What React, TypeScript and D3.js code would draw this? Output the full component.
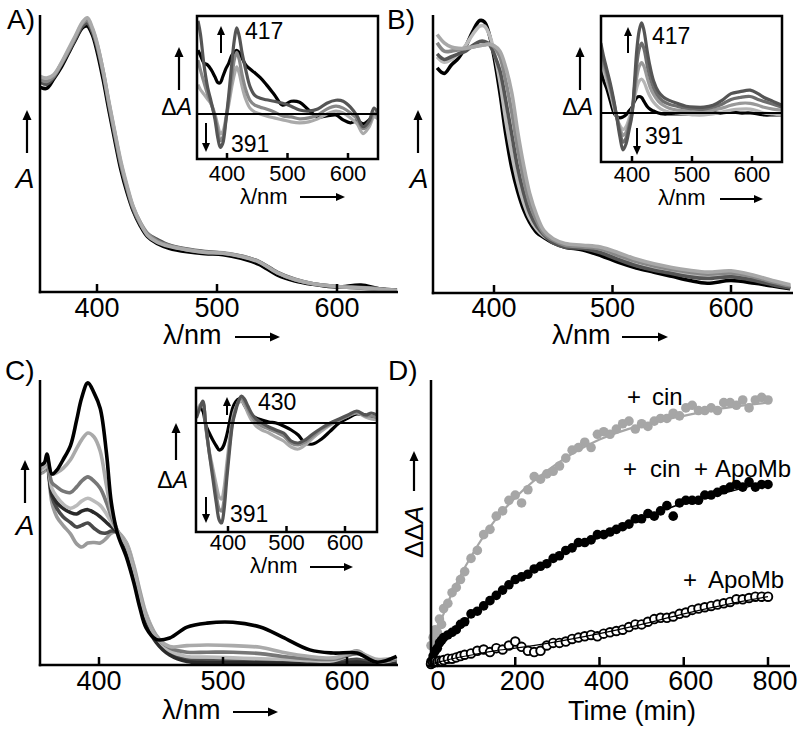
import React from 'react';
import * as d3 from 'd3';

const FONT = '"Liberation Sans", Arial, Helvetica, sans-serif';

// ---------- Data: main absorbance spectra (normalized A) ----------
const WL_MAIN = [352, 358, 364, 370, 376, 382, 388, 392, 396, 400, 405, 410, 415, 420, 425, 430, 436, 442, 450, 460, 475, 490, 505, 520, 535, 550, 565, 580, 600, 620, 635, 650];

const A_BLACK = [0.74, 0.735, 0.77, 0.81, 0.86, 0.91, 0.955, 0.96, 0.93, 0.87, 0.77, 0.655, 0.545, 0.44, 0.36, 0.295, 0.24, 0.2, 0.175, 0.158, 0.145, 0.138, 0.135, 0.122, 0.1, 0.062, 0.04, 0.028, 0.018, 0.025, 0.012, 0.008];
const A_DARK = [0.76, 0.75, 0.775, 0.82, 0.865, 0.915, 0.96, 0.97, 0.94, 0.885, 0.79, 0.672, 0.56, 0.455, 0.372, 0.3, 0.245, 0.21, 0.19, 0.17, 0.155, 0.146, 0.14, 0.13, 0.11, 0.072, 0.046, 0.03, 0.02, 0.014, 0.01, 0.005];
const A_MID = [0.77, 0.76, 0.78, 0.822, 0.87, 0.92, 0.97, 0.98, 0.95, 0.895, 0.8, 0.68, 0.57, 0.462, 0.378, 0.308, 0.252, 0.212, 0.185, 0.168, 0.153, 0.144, 0.142, 0.13, 0.11, 0.07, 0.044, 0.03, 0.02, 0.016, 0.012, 0.006];
const A_LIGHT = [0.78, 0.772, 0.785, 0.825, 0.875, 0.925, 0.975, 0.99, 0.955, 0.9, 0.8, 0.685, 0.575, 0.47, 0.385, 0.31, 0.25, 0.205, 0.18, 0.165, 0.152, 0.143, 0.14, 0.128, 0.108, 0.07, 0.045, 0.03, 0.02, 0.015, 0.01, 0.006];

const B_BLACK = [0.81, 0.79, 0.82, 0.845, 0.885, 0.94, 0.98, 0.975, 0.93, 0.85, 0.72, 0.57, 0.45, 0.365, 0.3, 0.255, 0.218, 0.2, 0.18, 0.165, 0.155, 0.135, 0.11, 0.09, 0.075, 0.06, 0.045, 0.035, 0.045, 0.035, 0.025, 0.015];
const B_LIGHTPEAK = [0.85, 0.83, 0.84, 0.86, 0.89, 0.93, 0.96, 0.96, 0.93, 0.87, 0.76, 0.62, 0.5, 0.4, 0.325, 0.27, 0.23, 0.205, 0.185, 0.17, 0.165, 0.15, 0.125, 0.1, 0.085, 0.075, 0.065, 0.06, 0.065, 0.05, 0.035, 0.022];
const B_DARK = [0.86, 0.84, 0.85, 0.86, 0.87, 0.89, 0.905, 0.905, 0.895, 0.86, 0.8, 0.69, 0.57, 0.45, 0.36, 0.29, 0.24, 0.21, 0.18, 0.165, 0.16, 0.145, 0.12, 0.098, 0.082, 0.07, 0.058, 0.052, 0.058, 0.045, 0.03, 0.018];
const B_MID = [0.9, 0.87, 0.87, 0.875, 0.88, 0.885, 0.89, 0.893, 0.895, 0.885, 0.85, 0.76, 0.65, 0.52, 0.41, 0.325, 0.26, 0.215, 0.19, 0.172, 0.166, 0.158, 0.135, 0.113, 0.097, 0.085, 0.075, 0.068, 0.072, 0.057, 0.04, 0.025];
const B_LIGHT = [0.93, 0.9, 0.885, 0.88, 0.88, 0.885, 0.89, 0.893, 0.895, 0.89, 0.87, 0.81, 0.72, 0.58, 0.46, 0.36, 0.28, 0.225, 0.195, 0.178, 0.172, 0.165, 0.145, 0.122, 0.105, 0.092, 0.082, 0.075, 0.08, 0.063, 0.045, 0.03];

const WL_C = [352, 356, 358, 362, 366, 371, 377, 382, 386, 391, 396, 401, 406, 410, 415, 422, 428, 433, 438, 446, 457, 471, 487, 508, 530, 548, 570, 589, 608, 624, 640];
const C_BLACK = [0.7, 0.71, 0.74, 0.67, 0.684, 0.72, 0.77, 0.86, 0.937, 0.99, 0.955, 0.9, 0.744, 0.568, 0.46, 0.38, 0.29, 0.2, 0.13, 0.09, 0.095, 0.133, 0.147, 0.15, 0.133, 0.098, 0.053, 0.042, 0.042, 0.01, 0.03];
const C_L1 = [0.69, 0.7, 0.73, 0.67, 0.675, 0.69, 0.72, 0.76, 0.79, 0.814, 0.8, 0.75, 0.63, 0.54, 0.47, 0.42, 0.34, 0.25, 0.17, 0.1, 0.065, 0.068, 0.07, 0.068, 0.062, 0.045, 0.03, 0.025, 0.045, 0.02, 0.025];
const C_M = [0.69, 0.7, 0.72, 0.64, 0.625, 0.61, 0.605, 0.625, 0.645, 0.66, 0.645, 0.62, 0.57, 0.52, 0.47, 0.42, 0.34, 0.25, 0.17, 0.1, 0.06, 0.045, 0.045, 0.045, 0.04, 0.03, 0.022, 0.02, 0.04, 0.015, 0.02];
const C_L2 = [0.68, 0.69, 0.71, 0.62, 0.59, 0.565, 0.55, 0.56, 0.575, 0.585, 0.575, 0.56, 0.53, 0.5, 0.47, 0.425, 0.345, 0.255, 0.175, 0.1, 0.05, 0.03, 0.028, 0.025, 0.022, 0.02, 0.015, 0.015, 0.04, 0.01, 0.02];
const C_D1 = [0.68, 0.69, 0.71, 0.6, 0.57, 0.55, 0.535, 0.53, 0.54, 0.545, 0.535, 0.52, 0.5, 0.485, 0.465, 0.41, 0.32, 0.23, 0.15, 0.08, 0.035, 0.012, 0.008, 0.008, 0.008, 0.006, 0.004, 0.004, 0.01, 0.003, 0.01];
const C_D2 = [0.68, 0.69, 0.71, 0.59, 0.55, 0.52, 0.5, 0.484, 0.49, 0.498, 0.48, 0.465, 0.463, 0.47, 0.465, 0.42, 0.335, 0.245, 0.165, 0.09, 0.04, 0.018, 0.015, 0.015, 0.012, 0.01, 0.008, 0.008, 0.02, 0.005, 0.01];
const C_G = [0.67, 0.68, 0.7, 0.57, 0.52, 0.49, 0.46, 0.425, 0.414, 0.428, 0.43, 0.428, 0.445, 0.463, 0.465, 0.43, 0.35, 0.26, 0.18, 0.105, 0.055, 0.025, 0.02, 0.018, 0.015, 0.012, 0.01, 0.01, 0.05, 0.005, 0.02];

// ---------- Data: difference spectra (insets) ----------
const WL_IA = [352, 356, 362, 368, 374, 380, 385, 389, 393, 398, 403, 408, 412, 416, 420, 425, 431, 438, 446, 455, 465, 478, 492, 506, 520, 535, 550, 565, 580, 592, 604, 615, 625, 635, 643, 650];
const IA_BLACK = [0.65, 0.6, 0.52, 0.5, 0.45, 0.38, 0.32, 0.32, 0.38, 0.46, 0.52, 0.6, 0.63, 0.65, 0.63, 0.57, 0.5, 0.46, 0.42, 0.37, 0.3, 0.2, 0.09, 0.13, 0.12, 0.04, -0.03, -0.02, -0.01, -0.06, -0.09, -0.07, -0.1, -0.06, 0.0, -0.01];
const IA_LIGHT = [0.3, 0.25, 0.2, 0.15, 0.1, 0.0, -0.12, -0.2, -0.18, -0.05, 0.1, 0.28, 0.4, 0.48, 0.42, 0.28, 0.15, 0.06, 0.02, 0.0, -0.02, -0.04, -0.06, -0.08, -0.09, -0.08, -0.05, 0.0, 0.03, 0.01, -0.04, -0.1, -0.2, -0.13, -0.03, -0.05];
const IA_MID = [0.55, 0.45, 0.32, 0.2, 0.1, -0.02, -0.18, -0.27, -0.24, -0.07, 0.15, 0.38, 0.55, 0.63, 0.56, 0.4, 0.25, 0.14, 0.09, 0.07, 0.05, 0.02, -0.02, -0.03, -0.05, -0.04, -0.01, 0.05, 0.08, 0.06, 0.01, -0.05, -0.15, -0.1, 0.01, -0.02];
const IA_DARK = [0.95, 0.82, 0.5, 0.27, 0.12, -0.05, -0.25, -0.34, -0.3, -0.08, 0.2, 0.52, 0.75, 0.88, 0.8, 0.62, 0.45, 0.28, 0.19, 0.16, 0.145, 0.13, 0.11, 0.08, 0.04, 0.03, 0.05, 0.11, 0.14, 0.13, 0.07, -0.02, -0.13, -0.07, 0.06, 0.0];

const WL_IB = [348, 352, 358, 364, 370, 375, 380, 385, 390, 395, 400, 404, 408, 412, 416, 420, 425, 430, 436, 444, 452, 462, 475, 490, 505, 520, 535, 550, 565, 580, 597, 610, 620, 635, 650];
const IB_BLACK = [0.5, 0.35, 0.25, 0.12, 0.0, -0.04, -0.05, -0.04, -0.02, 0.02, 0.06, 0.12, 0.16, 0.17, 0.16, 0.12, 0.07, 0.04, 0.02, 0.0, -0.01, -0.01, -0.01, -0.01, -0.01, -0.01, 0.0, 0.0, 0.01, 0.0, 0.0, -0.01, -0.02, -0.02, -0.02];
const IB_G3 = [0.55, 0.45, 0.33, 0.2, 0.05, -0.06, -0.13, -0.17, -0.14, -0.06, 0.04, 0.15, 0.26, 0.33, 0.35, 0.32, 0.24, 0.17, 0.11, 0.06, 0.03, 0.01, 0.0, -0.01, -0.02, -0.02, -0.01, 0.01, 0.03, 0.04, 0.04, 0.02, 0.0, -0.01, -0.02];
const IB_G2 = [0.62, 0.5, 0.38, 0.24, 0.08, -0.05, -0.16, -0.23, -0.2, -0.1, 0.02, 0.2, 0.37, 0.48, 0.52, 0.48, 0.37, 0.27, 0.19, 0.12, 0.08, 0.05, 0.03, 0.02, 0.01, 0.02, 0.03, 0.05, 0.08, 0.1, 0.1, 0.08, 0.06, 0.04, 0.03];
const IB_G1 = [0.68, 0.56, 0.42, 0.27, 0.1, -0.05, -0.2, -0.3, -0.26, -0.14, 0.0, 0.25, 0.5, 0.66, 0.72, 0.66, 0.5, 0.37, 0.26, 0.17, 0.12, 0.09, 0.07, 0.05, 0.04, 0.04, 0.06, 0.09, 0.14, 0.16, 0.17, 0.14, 0.12, 0.09, 0.06];
const IB_DARK = [0.72, 0.6, 0.45, 0.3, 0.12, -0.06, -0.25, -0.38, -0.32, -0.18, -0.02, 0.3, 0.65, 0.85, 0.93, 0.85, 0.65, 0.48, 0.33, 0.22, 0.165, 0.13, 0.1, 0.07, 0.06, 0.06, 0.08, 0.13, 0.2, 0.22, 0.235, 0.2, 0.16, 0.12, 0.08];

const WL_IC = [346, 352, 357, 362, 368, 374, 380, 385, 389, 393, 398, 403, 408, 413, 418, 423, 428, 434, 440, 448, 458, 470, 482, 495, 508, 520, 532, 545, 560, 575, 590, 605, 620, 635, 645, 655];
const IC_BLACK = [0.1, 0.15, 0.12, -0.02, -0.1, -0.17, -0.23, -0.27, -0.26, -0.22, -0.12, 0.02, 0.15, 0.21, 0.24, 0.23, 0.18, 0.12, 0.08, 0.05, 0.03, 0.01, 0.0, -0.03, -0.07, -0.12, -0.2, -0.21, -0.16, -0.08, 0.0, 0.05, 0.09, 0.08, 0.06, 0.05];
const IC_LIGHT = [0.1, 0.18, 0.2, -0.05, -0.28, -0.45, -0.62, -0.74, -0.76, -0.66, -0.4, -0.15, 0.05, 0.15, 0.2, 0.22, 0.18, 0.1, 0.03, -0.03, -0.07, -0.1, -0.14, -0.18, -0.24, -0.26, -0.22, -0.15, -0.08, -0.02, 0.03, 0.07, 0.1, 0.06, 0.04, 0.03];
const IC_MID = [0.08, 0.16, 0.21, -0.03, -0.3, -0.5, -0.72, -0.86, -0.88, -0.78, -0.48, -0.2, 0.02, 0.14, 0.22, 0.25, 0.21, 0.14, 0.07, 0.01, -0.03, -0.06, -0.09, -0.13, -0.2, -0.22, -0.19, -0.13, -0.06, -0.01, 0.03, 0.07, 0.11, 0.07, 0.07, 0.05];
const IC_DARK = [0.05, 0.15, 0.22, -0.02, -0.3, -0.55, -0.8, -0.97, -1.0, -0.88, -0.55, -0.25, 0.0, 0.12, 0.22, 0.27, 0.24, 0.17, 0.1, 0.04, 0.0, -0.04, -0.07, -0.1, -0.18, -0.2, -0.17, -0.11, -0.05, 0.0, 0.04, 0.08, 0.12, 0.08, 0.1, 0.08];

const WL_TICKS = [400, 500, 600];

// ---------- Data: kinetics (panel D) ----------
const TIME = [0, 5, 10, 15, 20, 25, 30, 40, 50, 60, 70, 80, 95, 110, 125, 140, 155, 170, 185, 200, 215, 230, 245, 260, 275, 290, 305, 320, 335, 350, 365, 380, 395, 410, 425, 440, 455, 470, 485, 500, 515, 530, 545, 560, 575, 590, 605, 620, 635, 650, 665, 680, 695, 710, 725, 740, 755, 770, 785, 800];
const CIN = [0.07, 0.1, 0.13, 0.12, 0.17, 0.15, 0.21, 0.23, 0.27, 0.29, 0.32, 0.35, 0.4, 0.43, 0.49, 0.51, 0.56, 0.58, 0.62, 0.64, 0.61, 0.66, 0.71, 0.7, 0.72, 0.73, 0.75, 0.78, 0.81, 0.82, 0.84, 0.82, 0.87, 0.88, 0.87, 0.89, 0.91, 0.92, 0.89, 0.91, 0.9, 0.92, 0.93, 0.93, 0.95, 0.94, 0.97, 0.98, 0.96, 0.96, 0.97, 0.96, 0.99, 0.99, 0.98, 1.0, 0.97, 1.0, 1.01, 1.0];
const CIN_APO = [0.01, 0.03, 0.05, 0.06, 0.08, 0.09, 0.1, 0.11, 0.12, 0.13, 0.15, 0.16, 0.19, 0.2, 0.22, 0.24, 0.26, 0.28, 0.3, 0.32, 0.33, 0.34, 0.36, 0.37, 0.38, 0.4, 0.41, 0.43, 0.44, 0.46, 0.46, 0.47, 0.49, 0.49, 0.5, 0.51, 0.52, 0.53, 0.55, 0.55, 0.57, 0.56, 0.58, 0.6, 0.56, 0.61, 0.62, 0.62, 0.62, 0.64, 0.64, 0.65, 0.66, 0.67, 0.68, 0.67, 0.69, 0.67, 0.68, 0.68];
const APO = [0.0, 0.005, 0.01, 0.008, 0.012, 0.01, 0.015, 0.02, 0.02, 0.025, 0.03, 0.035, 0.04, 0.05, 0.055, 0.045, 0.06, 0.055, 0.07, 0.085, 0.065, 0.05, 0.045, 0.05, 0.07, 0.08, 0.08, 0.085, 0.095, 0.1, 0.105, 0.11, 0.105, 0.115, 0.12, 0.125, 0.13, 0.14, 0.15, 0.15, 0.16, 0.17, 0.175, 0.175, 0.18, 0.19, 0.195, 0.205, 0.21, 0.215, 0.22, 0.225, 0.23, 0.235, 0.245, 0.245, 0.25, 0.255, 0.255, 0.255];
const FIT_T = [0, 25, 50, 100, 150, 200, 300, 400, 500, 600, 700, 800];
const CIN_FIT = [0.07, 0.17, 0.27, 0.42, 0.54, 0.63, 0.76, 0.85, 0.905, 0.94, 0.97, 0.99];
const CIN_APO_FIT = [0.02, 0.08, 0.12, 0.19, 0.26, 0.31, 0.41, 0.48, 0.55, 0.61, 0.65, 0.69];
const APO_FIT = [0.0, 0.01, 0.02, 0.035, 0.05, 0.06, 0.085, 0.115, 0.15, 0.19, 0.225, 0.255];
const TIME_TICKS = [0, 200, 400, 600, 800];

// ---------- helpers ----------
type Trace = { v: number[]; c: string };

const Arrow = ({ x1, y1, x2, y2, w = 2.2, head = 10, hw = 4.5 }: any) => {
  const dx = x2 - x1, dy = y2 - y1, L = Math.hypot(dx, dy);
  const ux = dx / L, uy = dy / L;
  const bx = x2 - ux * head, by = y2 - uy * head;
  const px = -uy, py = ux;
  return (
    <g>
      <line x1={x1} y1={y1} x2={bx + ux} y2={by + uy} stroke="#000" strokeWidth={w} />
      <polygon points={`${x2},${y2} ${bx + px * hw},${by + py * hw} ${bx - px * hw},${by - py * hw}`} fill="#000" />
    </g>
  );
};

function traceLines(id: string, x: any, y: any, wl: number[], traces: Trace[], rect: number[], sw: number) {
  const line = d3.line<[number, number]>().x(d => x(d[0])).y(d => y(d[1])).curve(d3.curveCatmullRom.alpha(0.5));
  return (
    <g>
      <defs>
        <clipPath id={id}><rect x={rect[0]} y={rect[1]} width={rect[2] - rect[0]} height={rect[3] - rect[1]} /></clipPath>
      </defs>
      <g clipPath={`url(#${id})`}>
        {traces.map((t, i) => (
          <path key={i} d={line(d3.zip(wl, t.v) as any) || ''} fill="none" stroke={t.c} strokeWidth={sw} strokeLinejoin="round" />
        ))}
      </g>
    </g>
  );
}

function MainPanel(p: any) {
  const x = d3.scaleLinear().domain([400, 600]).range(p.xr);
  const y = d3.scaleLinear().domain([0, 1]).range([p.bottom, p.top]);
  return (
    <g>
      {traceLines(p.id, x, y, p.wl, p.traces, [p.left + 1, p.top - 10, p.right, p.bottom - 1], 3.6)}
      <line x1={p.left} y1={p.top} x2={p.left} y2={p.bottom + 1.2} stroke="#000" strokeWidth={2.5} />
      <line x1={p.left - 1.2} y1={p.bottom} x2={p.right} y2={p.bottom} stroke="#000" strokeWidth={2.5} />
      {WL_TICKS.map(t => (
        <g key={t}>
          <line x1={x(t)} x2={x(t)} y1={p.bottom} y2={p.bottom - 8} stroke="#000" strokeWidth={2.5} />
          <text x={x(t)} y={p.tickY} textAnchor="middle" fontSize={27} fontFamily={FONT}>{t}</text>
        </g>
      ))}
      <text x={p.xlab[0]} y={p.xlab[1]} fontSize={27} fontFamily={FONT}>λ/nm</text>
      <Arrow x1={p.xarrow[0]} y1={p.xarrow[2]} x2={p.xarrow[1]} y2={p.xarrow[2]} />
      <Arrow x1={p.yarrow[0]} y1={p.yarrow[1]} x2={p.yarrow[0]} y2={p.yarrow[2]} />
      <text x={p.ylab[0]} y={p.ylab[1]} textAnchor="middle" fontSize={28} fontStyle="italic" fontFamily={FONT}>A</text>
      <text x={p.letter[0]} y={p.letter[1]} fontSize={28} fontFamily={FONT}>{p.letterText}</text>
    </g>
  );
}

function Inset(p: any) {
  const [bx0, by0, bx1, by1] = p.box;
  const x = d3.scaleLinear().domain([400, 600]).range(p.xr);
  const y = d3.scaleLinear().domain([0, 1]).range([p.zeroY, p.zeroY - p.unit]);
  return (
    <g>
      {traceLines(p.id, x, y, p.wl, p.traces, [bx0, by0, bx1, by1], 3.2)}
      <line x1={bx0} x2={bx1} y1={y(0)} y2={y(0)} stroke="#000" strokeWidth={2} />
      <rect x={bx0} y={by0} width={bx1 - bx0} height={by1 - by0} fill="none" stroke="#000" strokeWidth={2.5} />
      {WL_TICKS.map(t => (
        <g key={t}>
          <line x1={x(t)} x2={x(t)} y1={by1} y2={by1 - 6} stroke="#000" strokeWidth={2.5} />
          <text x={x(t)} y={p.tickY} textAnchor="middle" fontSize={22} fontFamily={FONT}>{t}</text>
        </g>
      ))}
      <text x={p.xlab[0]} y={p.xlab[1]} fontSize={22} fontFamily={FONT}>λ/nm</text>
      <Arrow x1={p.xarrow[0]} y1={p.xarrow[2]} x2={p.xarrow[1]} y2={p.xarrow[2]} w={2} head={9} hw={4} />
      <Arrow x1={p.yarrow[0]} y1={p.yarrow[1]} x2={p.yarrow[0]} y2={p.yarrow[2]} w={2.2} head={10} hw={4.5} />
      <text x={p.ylab[0]} y={p.ylab[1]} textAnchor="end" fontSize={23} fontFamily={FONT}>Δ<tspan fontStyle="italic">A</tspan></text>
      <Arrow x1={p.up[0]} y1={p.up[1]} x2={p.up[0]} y2={p.up[2]} w={2} head={9} hw={4} />
      <text x={p.upLab[0]} y={p.upLab[1]} fontSize={23} fontFamily={FONT}>{p.upText}</text>
      <Arrow x1={p.down[0]} y1={p.down[1]} x2={p.down[0]} y2={p.down[2]} w={2} head={9} hw={4} />
      <text x={p.downLab[0]} y={p.downLab[1]} fontSize={23} fontFamily={FONT}>{p.downText}</text>
    </g>
  );
}

function KineticsPanel() {
  const x = d3.scaleLinear().domain([0, 800]).range([431, 768]);
  const y = d3.scaleLinear().domain([0, 1]).range([664, 400]);
  const line = d3.line<[number, number]>().x(d => x(d[0])).y(d => y(d[1])).curve(d3.curveMonotoneX);
  const pts = (vals: number[]) => d3.zip(TIME, vals) as [number, number][];
  return (
    <g fontFamily={FONT}>
      <path d={line(d3.zip(FIT_T, CIN_FIT) as any) || ''} fill="none" stroke="#a6a6a6" strokeWidth={2.2} />
      {pts(CIN).map((d, i) => <circle key={'g' + i} cx={x(d[0])} cy={y(d[1])} r={4.8} fill="#a6a6a6" />)}
      {pts(CIN_APO).map((d, i) => <circle key={'b' + i} cx={x(d[0])} cy={y(d[1])} r={4.8} fill="#000" />)}
      <path d={line(d3.zip(FIT_T, CIN_APO_FIT) as any) || ''} fill="none" stroke="#000" strokeWidth={1.5} />
      {pts(APO).map((d, i) => <circle key={'o' + i} cx={x(d[0])} cy={y(d[1])} r={4.3} fill="#fff" stroke="#000" strokeWidth={1.9} />)}
      <path d={line(d3.zip(FIT_T, APO_FIT) as any) || ''} fill="none" stroke="#000" strokeWidth={1.2} />
      <line x1={431} y1={380} x2={431} y2={667} stroke="#000" strokeWidth={2.5} />
      <line x1={427} y1={666} x2={790} y2={666} stroke="#000" strokeWidth={2.5} />
      {TIME_TICKS.map(t => (
        <g key={t}>
          <line x1={x(t)} x2={x(t)} y1={666} y2={657} stroke="#000" strokeWidth={2.5} />
          <text x={x(t) + 7} y={690} textAnchor="middle" fontSize={27}>{t}</text>
        </g>
      ))}
      <text x={632} y={720} textAnchor="middle" fontSize={27}>Time (min)</text>
      <text x={388} y={380} fontSize={28}>D)</text>
      <text transform="translate(423,558) rotate(-90)" fontSize={26}>ΔΔ<tspan fontStyle="italic">A</tspan></text>
      <Arrow x1={414} y1={491} x2={414} y2={451} w={2.2} head={10} hw={4.5} />
      <text y={405} fontSize={24}><tspan x={627}>+</tspan><tspan x={652}>cin</tspan></text>
      <text y={477} fontSize={24}><tspan x={623}>+</tspan><tspan x={650}>cin</tspan><tspan x={694}>+</tspan><tspan x={715}>ApoMb</tspan></text>
      <text y={588} fontSize={24}><tspan x={683}>+</tspan><tspan x={708}>ApoMb</tspan></text>
    </g>
  );
}

export default function App() {
  const aTraces: Trace[] = [
    { v: A_BLACK, c: '#000' }, { v: A_DARK, c: '#555' }, { v: A_MID, c: '#888' }, { v: A_LIGHT, c: '#aaa' },
  ];
  const bTraces: Trace[] = [
    { v: B_BLACK, c: '#000' }, { v: B_LIGHTPEAK, c: '#bbb' }, { v: B_DARK, c: '#555' }, { v: B_MID, c: '#888' }, { v: B_LIGHT, c: '#a8a8a8' },
  ];
  const cTraces: Trace[] = [
    { v: C_G, c: '#9a9a9a' }, { v: C_D2, c: '#4a4a4a' }, { v: C_D1, c: '#2a2a2a' }, { v: C_L2, c: '#bbb' }, { v: C_M, c: '#777' }, { v: C_L1, c: '#aaa' }, { v: C_BLACK, c: '#000' },
  ];
  const iaTraces: Trace[] = [
    { v: IA_BLACK, c: '#000' }, { v: IA_LIGHT, c: '#aaa' }, { v: IA_MID, c: '#888' }, { v: IA_DARK, c: '#555' },
  ];
  const ibTraces: Trace[] = [
    { v: IB_BLACK, c: '#000' }, { v: IB_G3, c: '#b5b5b5' }, { v: IB_G2, c: '#999' }, { v: IB_G1, c: '#6e6e6e' }, { v: IB_DARK, c: '#555' },
  ];
  const icTraces: Trace[] = [
    { v: IC_BLACK, c: '#000' }, { v: IC_LIGHT, c: '#aaa' }, { v: IC_MID, c: '#888' }, { v: IC_DARK, c: '#555' },
  ];
  return (
    <svg width={800} height={733} viewBox="0 0 800 733" style={{ position: 'absolute', left: 0, top: 0, background: '#fff' }}>
      <rect x={0} y={0} width={800} height={733} fill="#fff" />
      <MainPanel id="clipA" wl={WL_MAIN} traces={aTraces} xr={[97, 337]} left={40} right={398} top={15} bottom={292}
        tickY={317} xlab={[163, 344]} xarrow={[235, 280, 337]} yarrow={[27, 153, 110]} ylab={[25, 188]} letter={[7, 29]} letterText="A)" />
      <MainPanel id="clipB" wl={WL_MAIN} traces={bTraces} xr={[494, 731]} left={433} right={793} top={15} bottom={293}
        tickY={317} xlab={[552, 344]} xarrow={[622, 668, 337]} yarrow={[418, 153, 110]} ylab={[419, 188]} letter={[387, 29]} letterText="B)" />
      <MainPanel id="clipC" wl={WL_C} traces={cTraces} xr={[99, 347]} left={40} right={398} top={380} bottom={665}
        tickY={690} xlab={[162, 719]} xarrow={[233, 278, 712]} yarrow={[25, 503, 460]} ylab={[25, 535]} letter={[5, 380]} letterText="C)" />
      <Inset id="clipIA" wl={WL_IA} traces={iaTraces} box={[197, 16, 378, 159]} xr={[227, 348]} zeroY={114} unit={98}
        tickY={181} xlab={[240, 204]} xarrow={[300, 345, 197]} ylab={[192, 115]} yarrow={[179, 90, 47]}
        up={[221, 53, 26]} upLab={[245, 39]} upText="417" down={[206, 123, 152]} downLab={[231, 152]} downText="391" />
      <Inset id="clipIB" wl={WL_IB} traces={ibTraces} box={[601, 16, 782, 162]} xr={[632, 752]} zeroY={113} unit={97}
        tickY={182} xlab={[658, 205]} xarrow={[720, 763, 199]} ylab={[593, 115]} yarrow={[580, 90, 47]}
        up={[628, 53, 27]} upLab={[652, 44]} upText="417" down={[637, 128, 155]} downLab={[645, 144]} downText="391" />
      <Inset id="clipIC" wl={WL_IC} traces={icTraces} box={[196, 388, 377, 532]} xr={[228, 345]} zeroY={423} unit={100}
        tickY={550} xlab={[250, 573]} xarrow={[310, 353, 567]} ylab={[188, 488]} yarrow={[176, 460, 423]}
        up={[227, 415, 397]} upLab={[258, 410]} upText="430" down={[206, 497, 523]} downLab={[230, 522]} downText="391" />
      <KineticsPanel />
    </svg>
  );
}
